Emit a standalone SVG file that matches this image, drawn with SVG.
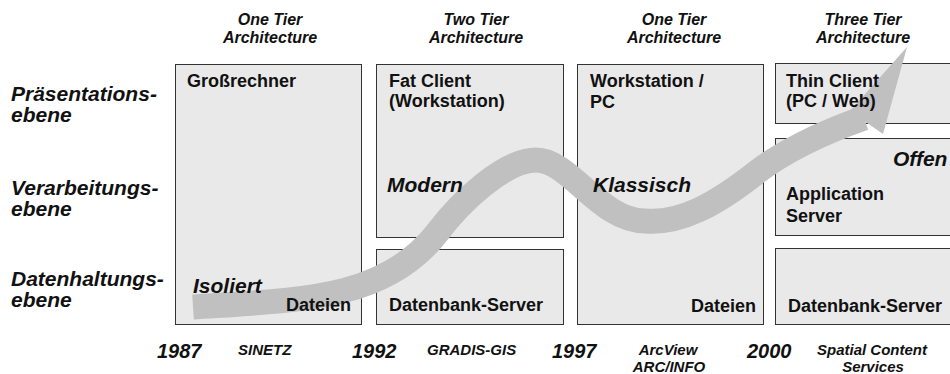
<svg xmlns="http://www.w3.org/2000/svg" width="950" height="374" viewBox="0 0 950 374">
<style>
text{font-family:"Liberation Sans",Arial,sans-serif;fill:#111;font-weight:bold}
.t{font-style:italic;font-size:16px;text-anchor:middle}
.l{font-style:italic;font-size:21px}
.b{font-size:18px}
.e{font-style:italic;font-size:21px}
.y{font-style:italic;font-size:20px}
.s{font-style:italic;font-size:15px}
.sm{font-style:italic;font-size:15px;text-anchor:middle}
.box{fill:#e9e9e9;stroke:#333;stroke-width:1}
.band{fill:none;stroke:#c0c0c0;stroke-width:25}
.head{fill:#c0c0c0}
</style>
<rect width="950" height="374" fill="#fff"/>
<g id="nodes">
<g id="n-grossrechner"><rect class="box" x="175.5" y="64.5" width="186" height="260"/></g>
<g id="n-fatclient"><rect class="box" x="376.5" y="64.5" width="187" height="173"/></g>
<g id="n-db-1992"><rect class="box" x="376.5" y="249.5" width="187" height="75"/></g>
<g id="n-workstation"><rect class="box" x="577.5" y="64.5" width="186" height="260"/></g>
<g id="n-thinclient"><rect class="box" x="775.5" y="63.5" width="190" height="60"/></g>
<g id="n-appserver"><rect class="box" x="775.5" y="138.5" width="190" height="97"/></g>
<g id="n-db-2000"><rect class="box" x="775.5" y="248.5" width="190" height="76"/></g>
</g>
<g id="connectors">
<path class="band" d="M193,307 C300,300 385,300 437,233 C461,201 505,160 536,160 C570,160 600,221 645,221 C680,224 715,205 757,172 C790,147 830,130 864,118"/>
<polygon class="head" points="850,111 907,47 883,134"/>
</g>
<g id="labels">
<text class="t" x="270" y="25">One Tier</text>
<text class="t" x="270" y="43">Architecture</text>
<text class="t" x="476" y="25">Two Tier</text>
<text class="t" x="476" y="43">Architecture</text>
<text class="t" x="674" y="25">One Tier</text>
<text class="t" x="674" y="43">Architecture</text>
<text class="t" x="863" y="25">Three Tier</text>
<text class="t" x="863" y="43">Architecture</text>
<text class="l" x="11" y="101">Präsentations-</text>
<text class="l" x="11" y="122">ebene</text>
<text class="l" x="11" y="195">Verarbeitungs-</text>
<text class="l" x="11" y="216">ebene</text>
<text class="l" x="11" y="286">Datenhaltungs-</text>
<text class="l" x="11" y="307">ebene</text>
<text class="b" x="187" y="87">Großrechner</text>
<text class="b" x="389" y="87">Fat Client</text>
<text class="b" x="389" y="107">(Workstation)</text>
<text class="b" x="590" y="87">Workstation /</text>
<text class="b" x="590" y="108">PC</text>
<text class="b" x="786" y="87">Thin Client</text>
<text class="b" x="786" y="107">(PC / Web)</text>
<text class="b" x="786" y="200">Application</text>
<text class="b" x="786" y="222">Server</text>
<text class="b" x="351" y="311" text-anchor="end">Dateien</text>
<text class="b" x="389" y="311">Datenbank-Server</text>
<text class="b" x="756" y="312" text-anchor="end">Dateien</text>
<text class="b" x="788" y="312">Datenbank-Server</text>
<text class="e" x="193" y="293">Isoliert</text>
<text class="e" x="387" y="192">Modern</text>
<text class="e" x="593" y="192">Klassisch</text>
<text class="e" x="893" y="166">Offen</text>
<text class="y" x="157" y="358">1987</text>
<text class="s" x="238" y="355">SINETZ</text>
<text class="y" x="352" y="358">1992</text>
<text class="s" x="427" y="355">GRADIS-GIS</text>
<text class="y" x="552" y="358">1997</text>
<text class="sm" x="668" y="355">ArcView</text>
<text class="sm" x="669" y="372">ARC/INFO</text>
<text class="y" x="747" y="358">2000</text>
<text class="sm" x="872" y="355">Spatial Content</text>
<text class="sm" x="873" y="372">Services</text>
</g>
</svg>
